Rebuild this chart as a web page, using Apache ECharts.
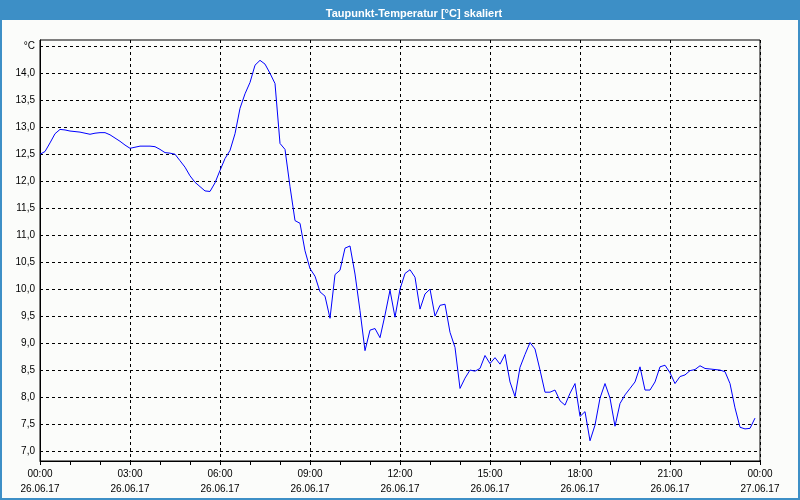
<!DOCTYPE html>
<html>
<head>
<meta charset="utf-8">
<script src="https://cdn.jsdelivr.net/npm/echarts@6/dist/echarts.min.js"></script>
<style>
  html, body { margin: 0; padding: 0; background: #fbfcfa; }
  #chart { width: 800px; height: 500px; }
</style>
</head>
<body>
<div id="chart"></div>
<script>
// Minutes since 26.06.17 00:00 (10-minute samples)
const sampleMinutes = [
  0,10,20,30,40,50,60,70,80,90,100,110,120,130,140,150,160,170,180,190,
  200,210,220,230,240,250,260,270,280,290,300,310,320,330,340,350,360,370,380,390,
  400,410,420,430,440,450,460,470,480,490,500,510,520,530,540,550,560,570,580,590,
  600,610,620,630,640,650,660,670,680,690,700,710,720,730,740,750,760,770,780,790,
  800,810,820,830,840,850,860,870,880,890,900,910,920,930,940,950,960,970,980,990,
  1000,1010,1020,1030,1040,1050,1060,1070,1080,1090,1100,1110,1120,1130,1140,1150,1160,1170,1180,1190,
  1200,1210,1220,1230,1240,1250,1260,1270,1280,1290,1300,1310,1320,1330,1340,1350,1360,1370,1380,1390,
  1400,1410,1420,1430
];
// Dew point temperature in °C
const dewPoint = [
  12.50,12.55,12.71,12.88,12.96,12.95,12.93,12.92,12.91,12.89,12.87,12.89,12.90,12.90,12.86,12.80,12.74,12.67,12.61,12.63,
  12.65,12.65,12.65,12.64,12.59,12.53,12.52,12.50,12.38,12.26,12.10,11.98,11.90,11.82,11.81,11.97,12.20,12.42,12.57,12.88,
  13.35,13.62,13.83,14.15,14.24,14.17,14.00,13.81,12.70,12.59,11.90,11.27,11.22,10.71,10.38,10.24,9.95,9.87,9.46,10.27,
  10.35,10.76,10.80,10.28,9.60,8.86,9.24,9.27,9.10,9.52,9.98,9.48,10.00,10.29,10.36,10.22,9.63,9.91,10.00,9.50,
  9.70,9.72,9.20,8.92,8.16,8.35,8.50,8.48,8.53,8.77,8.62,8.73,8.61,8.79,8.28,8.01,8.55,8.79,9.01,8.89,
  8.50,8.09,8.09,8.13,7.93,7.85,8.07,8.25,7.64,7.73,7.19,7.48,7.98,8.25,7.98,7.46,7.88,8.04,8.16,8.28,
  8.56,8.13,8.13,8.28,8.56,8.59,8.45,8.25,8.38,8.41,8.49,8.51,8.58,8.53,8.52,8.51,8.50,8.47,8.25,7.80,
  7.44,7.41,7.42,7.61
];
const xTickTimes = ['00:00','03:00','06:00','09:00','12:00','15:00','18:00','21:00','00:00'];
const xTickDates = ['26.06.17','26.06.17','26.06.17','26.06.17','26.06.17','26.06.17','26.06.17','26.06.17','27.06.17'];
const yUnitLabel = '°C';
const yLabelMin = 7.0;
const yLabelMax = 14.5;
const yStep = 0.5;
// plotted value range of the framed area (frame extends a little beyond the labelled ticks)
const yFrameMin = 6.815;
const yFrameMax = 14.617;
const titleText = 'Taupunkt-Temperatur [°C] skaliert';

const chart = echarts.init(document.getElementById('chart'), null, { renderer: 'canvas' });
const seriesData = sampleMinutes.map((m, i) => [m, dewPoint[i]]);
const font = "'Liberation Sans', Arial, sans-serif";
const blue = '#3d8fc6';

// pixel geometry of the labelled sub-grid derived from frame grid
const frameTop = 40, frameBottom = 39, frameH = 500 - frameTop - frameBottom;
const pxPerUnit = frameH / (yFrameMax - yFrameMin);
const labTop = frameTop + (yFrameMax - yLabelMax) * pxPerUnit;
const labBottom = frameBottom + (yLabelMin - yFrameMin) * pxPerUnit;

chart.setOption({
  backgroundColor: '#fbfcfa',
  animation: false,
  title: {
    text: titleText,
    left: 409,
    textAlign: 'center',
    top: 3,
    textStyle: { color: '#ffffff', fontSize: 11, fontWeight: 'bold', fontFamily: font }
  },
  graphic: [
    { type: 'rect', z: -1, shape: { x: 0, y: 0, width: 800, height: 20 }, style: { fill: blue } },
    { type: 'rect', z: 100, shape: { x: 1, y: 1, width: 798, height: 498 }, style: { fill: 'none', stroke: blue, lineWidth: 2 } }
  ],
  grid: [
    { left: 40, right: 40, top: frameTop, bottom: frameBottom, show: true, borderColor: '#000', borderWidth: 1 },
    { left: 40, right: 40, top: labTop, bottom: labBottom }
  ],
  xAxis: [{
    gridIndex: 0,
    type: 'value',
    min: 0, max: 1440, interval: 180,
    axisLine: { show: true, onZero: false, lineStyle: { color: '#000', width: 1 } },
    axisTick: { show: true, length: 4, lineStyle: { color: '#000' } },
    minorTick: { show: true, splitNumber: 3, length: 4, lineStyle: { color: '#000' } },
    splitLine: { show: true, lineStyle: { color: '#000', type: [3, 3], width: 1 } },
    axisLabel: {
      margin: 6,
      color: '#000',
      fontSize: 10,
      fontFamily: font,
      lineHeight: 15,
      formatter: function (v) {
        const i = Math.round(v / 180);
        return xTickTimes[i] + '\n' + xTickDates[i];
      }
    }
  }, {
    gridIndex: 1,
    type: 'value',
    min: 0, max: 1440, interval: 180,
    show: false
  }],
  yAxis: [{
    gridIndex: 0,
    type: 'value',
    min: yFrameMin, max: yFrameMax,
    axisLine: { show: true, lineStyle: { color: '#000', width: 1 } },
    axisTick: { show: false },
    axisLabel: { show: false },
    splitLine: { show: false }
  }, {
    gridIndex: 1,
    type: 'value',
    min: yLabelMin, max: yLabelMax, interval: yStep,
    axisLine: { show: false },
    axisTick: { show: false },
    splitLine: { show: true, lineStyle: { color: '#000', type: [3, 3], width: 1 } },
    axisLabel: {
      margin: 5,
      color: '#000',
      fontSize: 10,
      fontFamily: font,
      formatter: function (v) {
        if (Math.abs(v - yLabelMax) < 1e-6) return yUnitLabel;
        return v.toFixed(1).replace('.', ',');
      }
    }
  }],
  series: [{
    type: 'line',
    xAxisIndex: 0,
    yAxisIndex: 0,
    data: seriesData,
    showSymbol: false,
    symbol: 'none',
    lineStyle: { color: '#0000ff', width: 1 },
    z: 10
  }]
});
</script>
</body>
</html>
